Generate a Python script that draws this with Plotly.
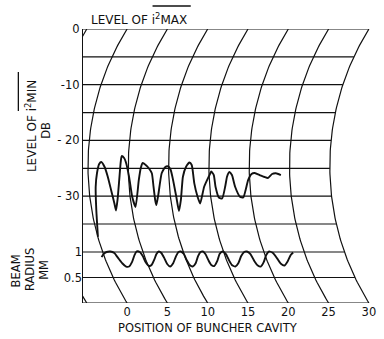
import numpy as np
import plotly.graph_objects as go

# ---------------- data ----------------
arc_positions = [-5, 0, 5, 10, 15, 20, 25, 30]          # buncher-cavity position arcs
x_tick_positions = [0, 5, 10, 15, 20, 25, 30]
db_grid_levels = [0, -5, -10, -15, -20, -25, -30, -35]
db_tick_values = [0, -10, -20, -30]
db_tick_text = ["0", "-10", "- 20", "- 30"]
radius_grid_levels = [0, 0.5, 1.0]
radius_tick_values = [0.5, 1.0]
radius_tick_text = ["0.5", "1"]

# level of i^2 min (dB) vs position of buncher cavity
imin_pos = [0.02, 0.57, 0.85, 1.11, 1.39, 1.65, 2.05, 2.43, 2.73, 2.94,
            3.00, 3.39, 3.83, 4.06, 4.16, 4.47, 4.69, 5.07, 5.26, 5.50,
            6.26, 6.55, 6.79, 7.16, 7.52, 7.91, 8.03, 8.06, 8.12, 8.52,
            9.13, 9.59, 9.95, 10.26, 10.51, 10.73, 10.80, 11.25, 11.75, 12.17,
            12.59, 12.87, 12.98, 13.12, 13.37, 13.58, 14.31, 14.99, 15.29, 15.59,
            15.72, 16.00, 16.39, 16.94, 17.22, 17.53, 17.84, 18.15, 18.63, 19.03,
            19.42, 19.83, 20.27, 20.67, 21.28, 21.87, 22.28, 22.82, 23.30, 23.91]
imin_db = [-37.28, -32.49, -28.36, -25.85, -24.23, -23.87, -24.72, -26.51, -28.90, -31.29,
           -32.58, -30.69, -27.10, -23.87, -22.80, -23.16, -23.87, -26.51, -30.10, -31.95,
           -27.10, -24.95, -24.05, -24.41, -24.95, -25.90, -28.31, -30.69, -31.59, -29.80,
           -25.90, -24.77, -24.68, -25.31, -27.10, -30.10, -32.67, -30.69, -26.51, -24.72,
           -23.96, -24.41, -25.31, -27.70, -30.10, -31.32, -28.31, -26.39, -25.58, -26.21,
           -28.31, -30.25, -30.43, -28.18, -26.51, -25.67, -26.21, -28.31, -30.10, -30.25,
           -28.90, -27.10, -26.03, -25.85, -26.21, -26.57, -26.75, -26.03, -25.90, -26.21]

# beam radius (mm) vs position of buncher cavity
radius_pos = [-0.35, 0.02, 0.49, 0.98, 1.41, 1.66, 1.91, 2.22, 2.59, 3.17,
              3.82, 4.26, 4.62, 4.80, 4.87, 5.10, 5.46, 6.11, 6.59, 7.00,
              7.24, 7.38, 7.45, 7.69, 8.23, 8.93, 9.42, 9.73, 9.99, 10.07,
              10.19, 10.49, 11.02, 11.66, 12.15, 12.47, 12.66, 12.75, 12.87, 13.18,
              13.79, 14.42, 14.90, 15.21, 15.30, 15.42, 15.77, 16.31, 17.01, 17.56,
              17.93, 18.25, 18.41, 18.61, 18.93, 19.51, 20.16, 20.67, 21.09, 21.35,
              21.57, 21.90, 22.54, 23.20, 23.61]
radius_mm = [0.90, 0.96, 1.00, 1.01, 0.98, 0.88, 0.78, 0.715, 0.715, 0.80,
             0.94, 1.01, 1.00, 0.92, 0.80, 0.725, 0.745, 0.86, 0.96, 1.01,
             0.98, 0.88, 0.765, 0.715, 0.78, 0.92, 1.00, 1.01, 0.96, 0.84,
             0.745, 0.715, 0.78, 0.92, 1.00, 1.01, 0.96, 0.84, 0.745, 0.725,
             0.82, 0.96, 1.01, 0.96, 0.84, 0.745, 0.715, 0.78, 0.92, 1.00,
             1.01, 0.96, 0.82, 0.735, 0.715, 0.80, 0.94, 1.01, 0.98, 0.88,
             0.77, 0.735, 0.82, 0.94, 0.99]

# ---------------- geometry of the curvilinear recorder chart ----------------
W, H = 384, 339
M_L, M_R, M_T, M_B = 83, 8, 29, 36
PW, PH = W - M_L - M_R, H - M_T - M_B
PX_PER_POS = 8.23
POS0_PX = 128 - M_L                      # x of position 0 along the top/bottom edge
X_LO = -POS0_PX / PX_PER_POS
X_HI = (PW - POS0_PX) / PX_PER_POS
PX_PER_DB = 5.571
DB_LO = -PH / PX_PER_DB
PX_PER_MM = 51.0
R_HI = PH / PX_PER_MM
ARC_R = 255.0                              # pen-arc radius, px

def frac_db(v):
    return -np.asarray(v, float) / -DB_LO

def frac_r(v):
    return 1 - np.asarray(v, float) / R_HI

def bow(frac):
    dy = (np.asarray(frac, float) - 0.5) * PH
    return (np.sqrt(ARC_R**2 - dy**2) - np.sqrt(ARC_R**2 - (PH / 2) ** 2)) / PX_PER_POS

INK = "#111111"
FONT = dict(family="DejaVu Sans", size=11.5, color=INK)
TITLE_FONT = dict(family="DejaVu Sans", size=12, color=INK)

fig = go.Figure()

# pen arcs
f = np.linspace(0, 1, 120)
for p in arc_positions:
    fig.add_trace(go.Scatter(x=p - bow(f), y=f * DB_LO, mode="lines",
                             line=dict(color=INK, width=1.2), hoverinfo="skip",
                             showlegend=False))
# horizontal dB lines, ending at the last arc
for lv in db_grid_levels:
    fr = frac_db(lv)
    fig.add_trace(go.Scatter(x=[X_LO, arc_positions[-1] - bow(fr)], y=[lv, lv], mode="lines",
                             line=dict(color=INK, width=1.2), hoverinfo="skip",
                             showlegend=False))
# horizontal radius lines
for lv in radius_grid_levels:
    fr = frac_r(lv)
    fig.add_trace(go.Scatter(x=[X_LO, arc_positions[-1] - bow(fr)], y=[lv, lv], mode="lines",
                             yaxis="y2", line=dict(color=INK, width=1.2), hoverinfo="skip",
                             showlegend=False))

# data traces
fig.add_trace(go.Scatter(x=np.array(imin_pos) - bow(frac_db(imin_db)), y=imin_db,
                         mode="lines", line=dict(color=INK, width=1.9, shape="spline", smoothing=0.5),
                         showlegend=False, name="i2 min"))
fig.add_trace(go.Scatter(x=np.array(radius_pos) - bow(frac_r(radius_mm)), y=radius_mm,
                         yaxis="y2", mode="lines",
                         line=dict(color=INK, width=1.9, shape="spline", smoothing=0.5),
                         showlegend=False, name="beam radius"))

fig.update_layout(
    width=W, height=H,
    margin=dict(l=M_L, r=M_R, t=M_T, b=M_B, pad=0),
    paper_bgcolor="white", plot_bgcolor="white",
    font=FONT,
    xaxis=dict(range=[X_LO, X_HI], showgrid=False, zeroline=False, showline=False,
               tickvals=x_tick_positions, ticks="", tickfont=FONT, fixedrange=True),
    yaxis=dict(range=[DB_LO, 0], showgrid=False, zeroline=False, showline=True,
               linecolor=INK, linewidth=1.2, tickvals=db_tick_values, ticktext=db_tick_text,
               ticks="", tickfont=FONT, fixedrange=True),
    yaxis2=dict(range=[0, R_HI], overlaying="y", side="left", showgrid=False,
                zeroline=False, showline=False, tickvals=radius_tick_values,
                ticktext=radius_tick_text, ticks="", tickfont=FONT, fixedrange=True),
)

def px(xp):
    return (xp - M_L) / PW

def py(yp):
    return (H - M_B - yp) / PH

ann = [
    ("LEVEL OF i<sup>2</sup>MAX", 140, 19, 0, TITLE_FONT),
    ("LEVEL OF i<sup>2</sup>MIN", 30, 126, -90, TITLE_FONT),
    ("DB", 45, 130, -90, FONT),
    ("BEAM", 15, 271, -90, FONT),
    ("RADIUS", 29, 270, -90, FONT),
    ("MM", 43, 270, -90, FONT),
    ("POSITION OF BUNCHER CAVITY", 211, 328, 0, FONT),
]
for text, x, y, ang, fnt in ann:
    fig.add_annotation(text=text, x=px(x), y=py(y), xref="paper", yref="paper",
                       showarrow=False, textangle=ang, font=fnt,
                       xanchor="center", yanchor="middle")

# overlines over i^2 MAX and i^2 MIN
fig.add_shape(type="line", xref="paper", yref="paper", x0=px(154), x1=px(193),
              y0=py(6), y1=py(6), line=dict(color=INK, width=1.3))
fig.add_shape(type="line", xref="paper", yref="paper", x0=px(17), x1=px(17),
              y0=py(111), y1=py(72), line=dict(color=INK, width=1.3))

fig.write_html("out.html")
